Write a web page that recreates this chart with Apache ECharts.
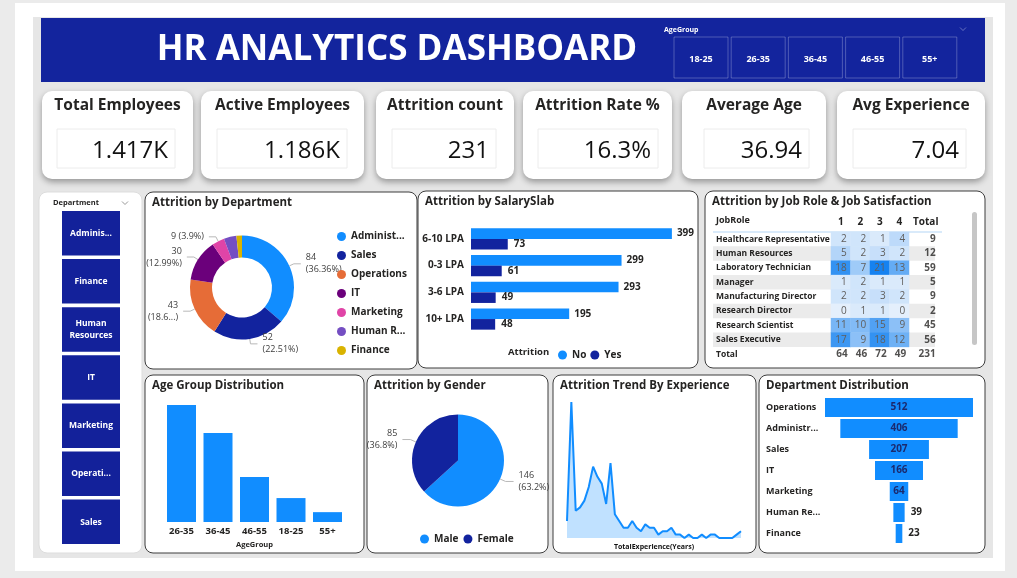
<!DOCTYPE html>
<html>
<head>
<meta charset="utf-8">
<title>HR Analytics Dashboard</title>
<script src="https://cdn.jsdelivr.net/npm/echarts@6.0.0/dist/echarts.min.js"></script>
<style>
  html, body { margin: 0; padding: 0; background: #ebebeb; }
  #chart { width: 1017px; height: 578px; }
</style>
</head>
<body>
<div id="chart"></div>
<script>
// ---- data ----
const ageGroups = ['18-25', '26-35', '36-45', '46-55', '55+'];
const kpiTitles = ['Total Employees', 'Active Employees', 'Attrition count', 'Attrition Rate %', 'Average Age', 'Avg Experience'];
const kpiValues = ['1.417K', '1.186K', '231', '16.3%', '36.94', '7.04'];
const deptButtons = ['Adminis...', 'Finance', 'Human\nResources', 'IT', 'Marketing', 'Operati...', 'Sales'];

const deptNames = ['Administration', 'Sales', 'Operations', 'IT', 'Marketing', 'Human Resources', 'Finance'];
const deptAttrition = [84, 52, 43, 30, 9, 9, 4];

const salarySlabs = ['6-10 LPA', '0-3 LPA', '3-6 LPA', '10+ LPA'];
const salaryNo = [399, 299, 293, 195];
const salaryYes = [73, 61, 49, 48];

const jobRoles = ['Healthcare Representative', 'Human Resources', 'Laboratory Technician', 'Manager',
  'Manufacturing Director', 'Research Director', 'Research Scientist', 'Sales Executive'];
const satLevels = ['1', '2', '3', '4'];
const roleBySat = [
  [2, 2, 1, 4],
  [5, 2, 3, 2],
  [18, 7, 21, 13],
  [1, 2, 1, 1],
  [2, 2, 3, 2],
  [0, 1, 1, 0],
  [11, 10, 15, 9],
  [17, 9, 18, 12],
];
const roleTotals = [9, 12, 59, 5, 9, 2, 45, 56];
const satTotals = [64, 46, 72, 49];
const grandTotal = 231;

const ageCats = ['26-35', '36-45', '46-55', '18-25', '55+'];
const ageCounts = [582, 443, 224, 119, 49];

const genders = ['Male', 'Female'];
const genderAttrition = [146, 85];

const expYears = ['0', '1', '2', '3', '4', '5', '6', '7', '8', '9', '10', '11', '12', '13', '14', '15', '16', '17', '18', '19', '20',
  '21', '22', '23', '24', '25', '26', '27', '28', '29', '30', '31', '32', '33', '34', '35', '36', '37', '38', '39', '40'];
const expAttrition = [5, 40, 8, 9, 11, 15, 21, 18, 16, 10, 22, 7, 5, 3, 3, 5, 3, 2, 4, 3, 3,
  1, 2, 2, 3, 1, 1, 0, 1, 0, 0, 1, 0, 1, 1, 0, 0, 0, 0, 1, 2];

const funnelDepts = ['Operations', 'Administration', 'Sales', 'IT', 'Marketing', 'Human Resources', 'Finance'];
const funnelCounts = [512, 406, 207, 166, 64, 39, 23];

// ---- styling ----
const palette = ['#118DFF', '#12239E', '#E66C37', '#6B007B', '#E044A7', '#744EC2', '#D9B300'];
const FONT = '"Open Sans", sans-serif';
const DARK = '#252423';
const BLUE = '#118DFF';
const NAVY = '#12239E';

const chart = echarts.init(document.getElementById('chart'));

// static frame: background, header, cards, panels
const g = [];
const rect = (x, y, w, h, style, r) => g.push({ type: 'rect', shape: { x, y, width: w, height: h, r: r || 0 }, style });
const text = (x, y, t, size, weight, fill, align) => g.push({
  type: 'text', x, y,
  style: { text: t, fontFamily: FONT, fontSize: size, fontWeight: weight, fill, textAlign: align || 'left', textVerticalAlign: 'middle', lineHeight: size + 3 },
});
const chevron = (x, y, color) => g.push({ type: 'polyline', shape: { points: [[x - 3, y - 1.5], [x, y + 1.5], [x + 3, y - 1.5]] }, style: { stroke: color, fill: null, lineWidth: 1 } });

rect(15, 3, 990, 568, { fill: '#ffffff' });
rect(33, 17, 960, 541, { fill: '#e6e6e6' });

// header
rect(41, 18, 944, 64, { fill: '#13249d' });
text(397, 50, 'HR ANALYTICS DASHBOARD', 35, 'bold', '#ffffff', 'center');
text(664, 30, 'AgeGroup', 7, 'bold', '#ffffff');
chevron(963, 29, 'rgba(255,255,255,0.35)');
ageGroups.forEach((a, i) => {
  const x = 674 + i * 57.2;
  rect(x, 37, 54, 41, { fill: 'none', stroke: 'rgba(255,255,255,0.25)', lineWidth: 1 });
  text(x + 27, 59, a, 9, 'bold', '#ffffff', 'center');
});

// KPI cards
const cardX = [[42, 193], [201, 364], [376, 514], [523, 672], [682, 826], [837, 985]];
const boxX = [[57, 175], [217, 347], [392, 496], [538, 658], [704, 809], [853, 966]];
kpiTitles.forEach((t, i) => {
  const [x0, x1] = cardX[i];
  rect(x0, 91, x1 - x0, 88, { fill: '#ffffff', shadowBlur: 6, shadowOffsetY: 3, shadowColor: 'rgba(0,0,0,0.35)' }, 10);
  text((x0 + x1) / 2, 106, t, 15.5, 'bold', DARK, 'center');
  const [b0, b1] = boxX[i];
  rect(b0, 129, b1 - b0, 39, { fill: '#ffffff', stroke: '#ececec', lineWidth: 1 });
  text(b1 - 7, 151, kpiValues[i], 24, 'normal', '#111111', 'right');
});

// department slicer
rect(39, 192, 103, 361, { fill: '#ffffff', stroke: '#dddddd', lineWidth: 1 }, 8);
text(53, 203, 'Department', 7.5, 'bold', DARK);
chevron(125, 203, '#999999');
deptButtons.forEach((d, i) => {
  const y = 211 + i * 48.1;
  rect(62, y, 58, 44.5, { fill: '#13219a' });
  text(91, y + 22.5, d, 8.5, 'bold', '#ffffff', 'center');
});

// visual panels
const panels = [
  [145, 192, 272, 177, 'Attrition by Department'],
  [418, 191, 280, 177, 'Attrition by SalarySlab'],
  [705, 191, 280, 177, 'Attrition by Job Role & Job Satisfaction'],
  [145, 375, 219, 178, 'Age Group Distribution'],
  [367, 375, 181, 178, 'Attrition by Gender'],
  [553, 375, 203, 178, 'Attrition Trend By Experience'],
  [759, 375, 226, 178, 'Department Distribution'],
];
panels.forEach(([x, y, w, h, t]) => {
  rect(x, y, w, h, { fill: '#ffffff', stroke: '#3d3d3d', lineWidth: 1 }, 8);
  text(x + 7, y + 11, t, 11.5, 'bold', DARK);
});

// matrix header bits
text(716, 220, 'JobRole', 9, 'bold', DARK);
g.push({ type: 'line', shape: { x1: 713, y1: 232, x2: 942, y2: 232 }, style: { stroke: '#b3d5f5', lineWidth: 1 } });
rect(972, 212, 5, 133, { fill: '#c6c6c6' }, 2.5);
text(508, 352, 'Attrition', 9.5, 'bold', DARK);

// ---- chart parts ----
const heatCells = [];
roleBySat.forEach((row, r) => row.forEach((v, c) => heatCells.push([c, r, v])));
const totalCells = [];
roleTotals.forEach((v, r) => totalCells.push({ value: [4, r, v], label: { offset: [17, 0] } }));
satTotals.forEach((v, c) => totalCells.push({ value: [c, 8, v], label: { offset: [7, 0] } }));
totalCells.push({ value: [4, 8, grandTotal], label: { offset: [17, 0] } });

const funnelMax = Math.max(...funnelCounts);
const funnelPad = funnelCounts.map((v) => (funnelMax - v) / 2);

const noAxis = { axisLine: { show: false }, axisTick: { show: false } };
const lbl = (size, extra) => Object.assign({ fontFamily: FONT, fontSize: size, fontWeight: 'bold', color: DARK }, extra || {});

const option = {
  animation: false,
  textStyle: { fontFamily: FONT },
  graphic: { elements: g },
  legend: [
    {
      data: deptNames, orient: 'vertical', left: 332, top: 225, itemGap: 6, itemWidth: 9, itemHeight: 9, icon: 'circle',
      textStyle: lbl(10, { width: 58, overflow: 'truncate', ellipsis: '...', lineHeight: 13 }),
    },
    {
      data: ['No', 'Yes'], left: 553, top: 345, itemGap: 4, itemWidth: 9, itemHeight: 9, icon: 'circle',
      textStyle: lbl(10),
    },
    {
      data: genders, left: 415, top: 529, itemGap: 5, itemWidth: 9, itemHeight: 9, icon: 'circle',
      textStyle: lbl(10),
    },
  ],
  grid: [
    { left: 471, top: 225.6, width: 201.4, height: 106.8 },
    { left: 713, top: 232, width: 222, height: 129.3 },
    { left: 831, top: 232, width: 97.5, height: 129.3 },
    { left: 163.25, top: 405, width: 182.5, height: 117 },
    { left: 567, top: 402, width: 174, height: 136 },
    { left: 825, top: 397, width: 148, height: 147 },
  ],
  xAxis: [
    { gridIndex: 0, type: 'value', min: 0, max: 400, show: false },
    { gridIndex: 1, type: 'value', min: 0, max: 1, show: false },
    {
      gridIndex: 2, type: 'category', data: satLevels.concat(['Total']), position: 'top', ...noAxis, z: 3,
      axisLabel: lbl(10, {
        margin: 5, interval: 0,
        formatter: (v) => (v === 'Total' ? '{t|Total}' : v),
        rich: { t: lbl(10, { padding: [0, 0, 0, 14] }) },
      }),
    },
    {
      gridIndex: 3, type: 'category', data: ageCats, ...noAxis,
      axisLabel: lbl(9.5, { margin: 4, interval: 0 }),
      name: 'AgeGroup', nameLocation: 'middle', nameGap: 19, nameTextStyle: lbl(7.5),
    },
    {
      gridIndex: 4, type: 'category', data: expYears, boundaryGap: false, ...noAxis, axisLabel: { show: false },
      name: 'TotalExperience(Years)', nameLocation: 'middle', nameGap: 5, nameTextStyle: lbl(7, { color: '#111' }), z: 5,
    },
    { gridIndex: 5, type: 'value', min: 0, max: funnelMax, show: false },
  ],
  yAxis: [
    { gridIndex: 0, type: 'category', data: salarySlabs, inverse: true, ...noAxis, axisLabel: lbl(10, { margin: 7, interval: 0 }) },
    {
      gridIndex: 1, type: 'category', data: jobRoles.concat(['Total']), ...noAxis, axisLabel: { show: false }, z: 1,
      splitArea: { show: true, interval: 0, areaStyle: { color: ['rgba(0,0,0,0)', '#ebebeb'] } },
    },
    {
      gridIndex: 2, type: 'category', data: jobRoles.concat(['Total']), inverse: true, ...noAxis, z: 3,
      axisLabel: lbl(8.5, { align: 'left', margin: 115, interval: 0 }),
    },
    { gridIndex: 3, type: 'value', min: 0, max: 'dataMax', show: false },
    { gridIndex: 4, type: 'value', min: 0, max: 'dataMax', show: false },
    {
      gridIndex: 5, type: 'category', data: funnelDepts, inverse: true, ...noAxis,
      axisLabel: lbl(9, { align: 'left', margin: 59, interval: 0, width: 56, overflow: 'truncate', ellipsis: '...' }),
    },
  ],
  visualMap: [{
    show: false, seriesIndex: 3, dimension: 2, min: 0, max: 21,
    inRange: { color: ['#e4effc', '#1682f0'] },
  }],
  series: [
    {
      type: 'pie', name: 'Attrition by Department', center: [242, 287.5], radius: [30, 52],
      data: deptNames.map((n, i) => {
        const item = { name: n, value: deptAttrition[i], itemStyle: { color: palette[i] } };
        if (i === 4) item.label = { formatter: '{c} ({d}%)' };
        if (i === 2) item.label = { width: 36, overflow: 'truncate', ellipsis: '...)' };
        if (i >= 5) { item.label = { show: false }; item.labelLine = { show: false }; }
        return item;
      }),
      label: { formatter: '{c}\n({d}%)', fontSize: 9, color: '#404040', lineHeight: 12 },
      labelLine: { length: 5, length2: 7, lineStyle: { color: '#b8b8b8' } },
    },
    {
      type: 'bar', name: 'No', xAxisIndex: 0, yAxisIndex: 0, data: salaryNo, barWidth: 10.6, barGap: '0%',
      itemStyle: { color: BLUE }, label: { show: true, position: 'right', distance: 5, ...lbl(10) },
    },
    {
      type: 'bar', name: 'Yes', xAxisIndex: 0, yAxisIndex: 0, data: salaryYes, barWidth: 10.6, barGap: '0%',
      itemStyle: { color: NAVY }, label: { show: true, position: 'right', distance: 6, ...lbl(10) },
    },
    {
      type: 'heatmap', xAxisIndex: 2, yAxisIndex: 2, data: heatCells, z: 4,
      label: { show: true, formatter: (p) => p.value[2], fontSize: 10, color: '#605e5c', align: 'right', offset: [6, 0] },
    },
    {
      type: 'scatter', xAxisIndex: 2, yAxisIndex: 2, data: totalCells, symbolSize: 1, z: 4,
      itemStyle: { color: 'rgba(0,0,0,0)' },
      label: { show: true, position: 'inside', align: 'right', formatter: (p) => p.value[2], ...lbl(10) },
    },
    {
      type: 'bar', xAxisIndex: 3, yAxisIndex: 3, data: ageCounts, barWidth: 29, itemStyle: { color: BLUE },
    },
    {
      type: 'pie', name: 'Attrition by Gender', center: [458, 460.5], radius: 46, percentPrecision: 1,
      data: genders.map((n, i) => ({ name: n, value: genderAttrition[i], itemStyle: { color: i === 0 ? BLUE : NAVY } })),
      label: { formatter: '{c}\n({d}%)', fontSize: 9, color: '#404040', lineHeight: 12 },
      labelLine: { length: 6, length2: 8, lineStyle: { color: '#b8b8b8' } },
    },
    {
      type: 'line', xAxisIndex: 4, yAxisIndex: 4, data: expAttrition, symbol: 'none',
      lineStyle: { color: BLUE, width: 2 }, areaStyle: { color: 'rgba(17,141,255,0.38)' },
    },
    {
      type: 'bar', xAxisIndex: 5, yAxisIndex: 5, data: funnelPad, stack: 'funnel', barWidth: 19,
      itemStyle: { color: 'rgba(0,0,0,0)' }, silent: true,
    },
    {
      type: 'bar', xAxisIndex: 5, yAxisIndex: 5, stack: 'funnel', barWidth: 19, itemStyle: { color: BLUE },
      data: funnelCounts.map((v) => (v < 50
        ? { value: v, label: { position: 'right', distance: 6, color: DARK } }
        : v)),
      label: { show: true, position: 'inside', ...lbl(10, { color: '#1b2a6e' }) },
    },
  ],
};

chart.setOption(option);
</script>
</body>
</html>
